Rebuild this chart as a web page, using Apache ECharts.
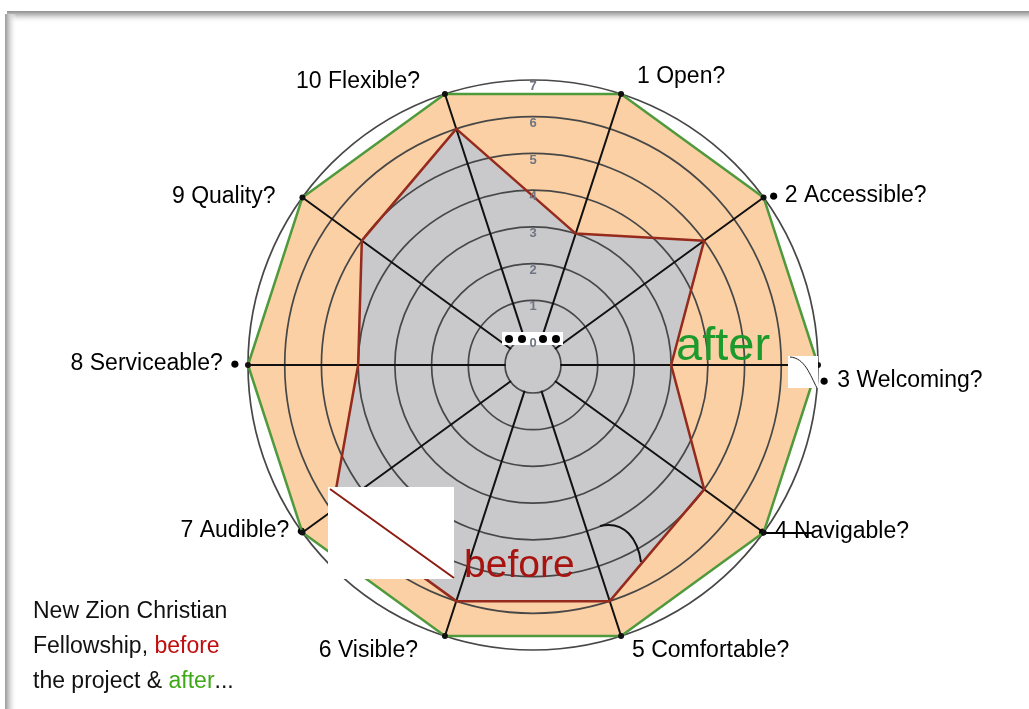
<!DOCTYPE html>
<html><head><meta charset="utf-8">
<script src="https://cdn.jsdelivr.net/npm/echarts@6/dist/echarts.min.js"></script>
<style>html,body{margin:0;padding:0;background:#fff}#c{width:1029px;height:709px}</style>
</head><body><div id="c"></div>
<script>
// ---- data ----
const categories = ['1 Open?','2 Accessible?','3 Welcoming?','4 Navigable?','5 Comfortable?','6 Visible?','7 Audible?','8 Serviceable?','9 Quality?','10 Flexible?'];
const beforeValues = [3, 5, 3, 5, 6, 6, 6, 4, 5, 6];
const afterValues  = [7, 7, 7, 7, 7, 7, 7, 7, 7, 7];
const ringTicks = ['0','1','2','3','4','5','6','7'];
const scaleMax = 7;
const seriesNames = ['after', 'before'];

// ECharts lays radar indicators counter-clockwise; the reference runs clockwise
const order = [0, 9, 8, 7, 6, 5, 4, 3, 2, 1];
const pick = arr => order.map(i => arr[i]);

const CENTER = [533, 365];
const RADIUS = [28, 285];
const FONT = 'Liberation Sans, Arial, sans-serif';
const LABEL_SIZE = 23;

// per-label placement tweaks (padding) and bullet side
const labelPad = [
  {p:[0,0,53,19]},
  {p:[0,0,15,13], b:'L', bp:[0,0,15,13], tp:[0,0,15,6]},
  {p:[32,0,0,11], b:'L', bp:[32,0,0,11], tp:[32,0,0,8]},
  {p:[11,0,0,2],  b:'L', bp:[11,0,0,2],  tp:[11,0,0,7]},
  {p:[49,0,0,14]},
  {p:[49,30,0,0]},
  {p:[9,0,0,0],   b:'R', bp:[9,4,0,0],   tp:[9,7,0,0]},
  {p:[0,0,2,0],   b:'R', bp:[0,18,2,0],  tp:[0,7,2,0]},
  {p:[0,35,13,0]},
  {p:[0,28,43,0]}
];
const rich = {};
labelPad.forEach((lp, k) => {
  rich['t' + k] = {fontSize: LABEL_SIZE, fontFamily: FONT, color: '#000', padding: lp.b ? lp.tp : lp.p};
  if (lp.b) rich['b' + k] = {fontSize: 17, fontFamily: FONT, color: '#000', padding: lp.bp};
});

const chart = echarts.init(document.getElementById('c'));
chart.setOption({
  backgroundColor: '#fff',
  animation: false,
  radar: {
    center: CENTER,
    radius: RADIUS,
    startAngle: 72,
    shape: 'circle',
    splitNumber: 7,
    z: 3,
    nameGap: -10,
    indicator: pick(categories).map(n => ({name: n, min: 0, max: scaleMax})),
    axisName: {
      formatter: function (name) {
        const k = categories.indexOf(name);
        const lp = labelPad[k];
        if (lp.b === 'L') return '{b' + k + '|●}{t' + k + '|' + name + '}';
        if (lp.b === 'R') return '{t' + k + '|' + name + '}{b' + k + '|●}';
        return '{t' + k + '|' + name + '}';
      },
      rich: rich
    },
    axisLine: {lineStyle: {color: '#111', width: 2}},
    splitLine: {lineStyle: {color: '#474747', width: 1.7}},
    splitArea: {show: false}
  },
  polar: {center: CENTER, radius: RADIUS},
  angleAxis: {show: false, startAngle: 90, min: 0, max: 360},
  radiusAxis: {
    min: 0, max: scaleMax, interval: 1, z: 6,
    axisLine: {show: false}, axisTick: {show: false}, splitLine: {show: false},
    axisLabel: {
      margin: 0, align: 'center', verticalAlign: 'top',
      color: '#6f7582', fontWeight: 'bold', fontSize: 13, fontFamily: FONT,
      formatter: v => ringTicks[v]
    }
  },
  series: [
    {
      type: 'radar', z: 2, symbol: 'none', silent: true,
      lineStyle: {width: 0},
      data: [
        {name: seriesNames[0], value: pick(afterValues), areaStyle: {color: '#fbd0a4', opacity: 1}},
        {name: seriesNames[1], value: pick(beforeValues), areaStyle: {color: '#c9c9cc', opacity: 1}}
      ]
    },
    {
      type: 'radar', z: 4,
      data: [
        {name: seriesNames[0], value: pick(afterValues), symbol: 'circle', symbolSize: 6,
          itemStyle: {color: '#111'}, lineStyle: {color: '#4f9a3c', width: 2.5}},
        {name: seriesNames[1], value: pick(beforeValues), symbol: 'none',
          lineStyle: {color: '#962a1c', width: 2.5}}
      ]
    }
  ],
  graphic: [
    // panel frame shading (top and left edges)
    {type: 'rect', z: 0, shape: {x: 7, y: 11, width: 1030, height: 12},
      style: {fill: new echarts.graphic.LinearGradient(0, 0, 0, 1, [{offset: 0, color: '#8f8f8f'}, {offset: 0.35, color: '#c4c4c4'}, {offset: 1, color: 'rgba(255,255,255,0)'}])}},
    {type: 'rect', z: 0, shape: {x: 5, y: 14, width: 12, height: 700},
      style: {fill: new echarts.graphic.LinearGradient(0, 0, 1, 0, [{offset: 0, color: '#9a9a9a'}, {offset: 0.35, color: '#cfcfcf'}, {offset: 1, color: 'rgba(255,255,255,0)'}])}},
    // annotation boxes and texts
    {type: 'rect', z: 5, shape: {x: 502, y: 332, width: 61, height: 13}, style: {fill: '#fff'}},
    {type: 'circle', z: 5, shape: {cx: 509, cy: 339, r: 4}, style: {fill: '#000'}},
    {type: 'circle', z: 5, shape: {cx: 522, cy: 339, r: 4}, style: {fill: '#000'}},
    {type: 'circle', z: 5, shape: {cx: 543, cy: 339, r: 4}, style: {fill: '#000'}},
    {type: 'circle', z: 5, shape: {cx: 556, cy: 339, r: 4}, style: {fill: '#000'}},
    {type: 'rect', z: 20, shape: {x: 328, y: 487, width: 126, height: 92}, style: {fill: '#fff'}},
    {type: 'line', z: 21, shape: {x1: 330, y1: 489, x2: 454, y2: 578}, style: {stroke: '#8c1c12', lineWidth: 2}},
    {type: 'rect', z: 20, shape: {x: 788, y: 356, width: 30, height: 32}, style: {fill: '#fff'}},
    {type: 'bezierCurve', z: 21, shape: {x1: 790, y1: 357, cpx1: 805, cpy1: 358, cpx2: 810, cpy2: 375, x2: 817, y2: 388}, style: {stroke: '#222', lineWidth: 1, fill: 'none'}},
    {type: 'bezierCurve', z: 21, shape: {x1: 600, y1: 526, cpx1: 625, cpy1: 520, cpx2: 638, cpy2: 540, x2: 641, y2: 562}, style: {stroke: '#111', lineWidth: 2, fill: 'none'}},
    {type: 'line', z: 21, shape: {x1: 766, y1: 533, x2: 812, y2: 533}, style: {stroke: '#000', lineWidth: 2}},
    {type: 'text', z: 22, x: 676, y: 347, style: {text: 'after', fill: '#1c9b2c', font: '47px Liberation Sans', verticalAlign: 'middle'}},
    {type: 'text', z: 22, x: 464, y: 566, style: {text: 'before', fill: '#a8130f', font: '39px Liberation Sans', verticalAlign: 'middle'}},
    {type: 'text', z: 22, x: 33, y: 594, style: {
      text: '{t|New Zion Christian}\n{t|Fellowship, }{r|before}\n{t|the project & }{g|after}{t|...}',
      rich: {
        t: {fontSize: LABEL_SIZE, fontFamily: FONT, fill: '#111', lineHeight: 35},
        r: {fontSize: LABEL_SIZE, fontFamily: FONT, fill: '#c00d0d', lineHeight: 35},
        g: {fontSize: LABEL_SIZE, fontFamily: FONT, fill: '#3fa816', lineHeight: 35}
      }
    }}
  ]
});
</script>
</body></html>
